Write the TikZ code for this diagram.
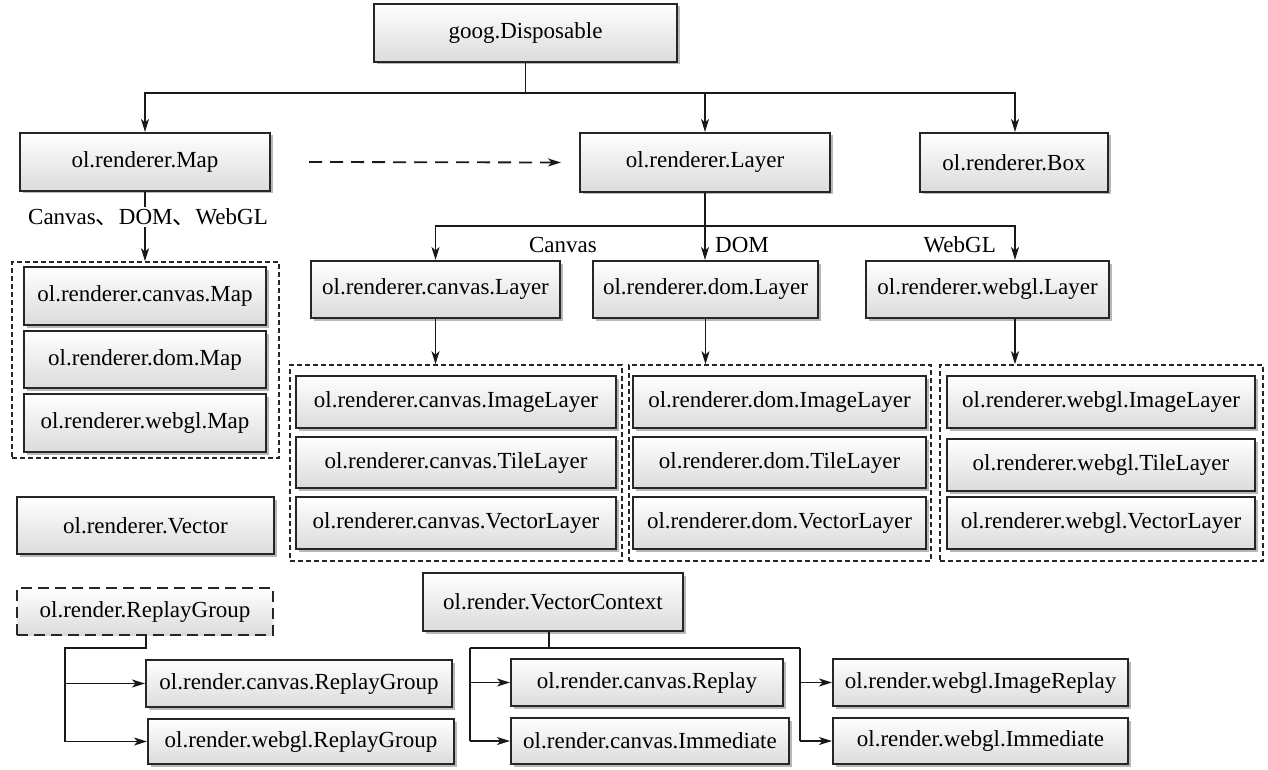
\documentclass[tikz,border=0pt]{standalone}
\usepackage{fontspec}
\setmainfont{Liberation Serif}
\newfontfamily\cjk{Noto Sans CJK SC}
\usetikzlibrary{arrows.meta,shadows,calc}
\begin{document}
\begin{tikzpicture}[x=1pt,y=-1pt,
  cls/.style={draw=black!85, line width=2pt, top color=white, bottom color=black!14,
    drop shadow={shadow xshift=2.5pt, shadow yshift=-2.5pt, fill=black!28, opacity=1},
    inner sep=0pt, font=\fontsize{23}{27}\selectfont},
  dcls/.style={draw=black!85, line width=2pt, top color=white, bottom color=black!14,
    dash pattern=on 11pt off 6pt, inner sep=0pt, font=\fontsize{23}{27}\selectfont},
  grp/.style={draw=black!85, line width=1.6pt, dash pattern=on 5pt off 3pt, inner sep=0pt},
  conn/.style={line width=1.8pt, draw=black!90},
  arr/.style={conn, -{Stealth[length=13pt,width=8pt,inset=3.5pt]}},
  lbl/.style={font=\fontsize{23}{27}\selectfont, inner sep=1pt}
]
\useasboundingbox (0,0) rectangle (1268,770);

% containers
\node[grp, minimum width=267pt, minimum height=196pt] (lgrp) at (145.5,360) {};
\node[grp, minimum width=332pt, minimum height=196pt] (cgrp) at (456,463) {};
\node[grp, minimum width=302pt, minimum height=196pt] (dgrp) at (780,463) {};
\node[grp, minimum width=323pt, minimum height=196pt] (wgrp) at (1101.5,463) {};

% top
\node[cls, minimum width=303pt, minimum height=58pt] (goog) at (525.5,33) {goog.Disposable};
\node[cls, minimum width=250pt, minimum height=58pt] (map) at (145,162) {ol.renderer.Map};
\node[cls, minimum width=250pt, minimum height=59pt] (layer) at (705,162.5) {ol.renderer.Layer};
\node[cls, minimum width=188pt, minimum height=59pt] (box) at (1014,162.5) {ol.renderer.Box};

% layers
\node[cls, minimum width=249pt, minimum height=57pt] (clayer) at (435.5,289.5) {ol.renderer.canvas.Layer};
\node[cls, minimum width=225pt, minimum height=57pt] (dlayer) at (705.5,289.5) {ol.renderer.dom.Layer};
\node[cls, minimum width=243pt, minimum height=57pt] (wlayer) at (987.5,289.5) {ol.renderer.webgl.Layer};

% maps
\node[cls, minimum width=242pt, minimum height=58pt] (cmap) at (145,296) {ol.renderer.canvas.Map};
\node[cls, minimum width=242pt, minimum height=57pt] (dmap) at (145,359.5) {ol.renderer.dom.Map};
\node[cls, minimum width=242pt, minimum height=58pt] (wmap) at (145,423) {ol.renderer.webgl.Map};
\node[cls, minimum width=257pt, minimum height=57pt] (vec) at (145.5,525.5) {ol.renderer.Vector};

% canvas group
\node[cls, minimum width=320pt, minimum height=52pt] (cimg) at (456,402) {ol.renderer.canvas.ImageLayer};
\node[cls, minimum width=320pt, minimum height=51pt] (ctile) at (456,462.5) {ol.renderer.canvas.TileLayer};
\node[cls, minimum width=320pt, minimum height=52pt] (cvec) at (456,523) {ol.renderer.canvas.VectorLayer};
% dom group
\node[cls, minimum width=293pt, minimum height=52pt] (dimg) at (779.5,402) {ol.renderer.dom.ImageLayer};
\node[cls, minimum width=293pt, minimum height=51pt] (dtile) at (779.5,462.5) {ol.renderer.dom.TileLayer};
\node[cls, minimum width=293pt, minimum height=52pt] (dvec) at (779.5,523) {ol.renderer.dom.VectorLayer};
% webgl group
\node[cls, minimum width=308pt, minimum height=52pt] (wimg) at (1101,402) {ol.renderer.webgl.ImageLayer};
\node[cls, minimum width=308pt, minimum height=52pt] (wtile) at (1101,465) {ol.renderer.webgl.TileLayer};
\node[cls, minimum width=308pt, minimum height=52pt] (wvec) at (1101,523) {ol.renderer.webgl.VectorLayer};

% bottom
\node[dcls, minimum width=256pt, minimum height=47pt] (rg) at (145,611.5) {ol.render.ReplayGroup};
\node[cls, minimum width=306pt, minimum height=47pt] (crg) at (299,683.5) {ol.render.canvas.ReplayGroup};
\node[cls, minimum width=306pt, minimum height=45pt] (wrg) at (301,741.5) {ol.render.webgl.ReplayGroup};
\node[cls, minimum width=260pt, minimum height=58pt] (vc) at (553,602) {ol.render.VectorContext};
\node[cls, minimum width=272pt, minimum height=47pt] (crep) at (647,682.5) {ol.render.canvas.Replay};
\node[cls, minimum width=278pt, minimum height=46pt] (cimm) at (650,741) {ol.render.canvas.Immediate};
\node[cls, minimum width=295pt, minimum height=47pt] (wrep) at (980.5,682.5) {ol.render.webgl.ImageReplay};
\node[cls, minimum width=295pt, minimum height=46pt] (wimm) at (980.5,741) {ol.render.webgl.Immediate};

% connectors: top tree
\coordinate (b1) at (525.5,93);
\draw[conn] (goog.south) -- (b1);
\draw[arr] (b1) -| (map.north);
\draw[arr] (b1) -| (layer.north);
\draw[arr] (b1) -| ([xshift=1pt]box.north);
\draw[arr, dash pattern=on 13pt off 8pt] ([xshift=38pt]map.east) -- ([xshift=-18pt]layer.west);

% map to its group
\draw[arr] (map.south) -- (map.south |- lgrp.north);
\node[lbl, fill=white] (mlbl) at (148,217) {Canvas{\cjk 、}DOM{\cjk 、}WebGL};

% layer tree
\coordinate (b2) at (705,226);
\draw[conn] (layer.south) -- (b2);
\draw[arr] (b2) -| (clayer.north);
\draw[arr] (b2) -- (b2 |- dlayer.north);
\draw[arr] (b2) -| ([xshift=27.5pt]wlayer.north);
\node[lbl] (lc) at (563,245) {Canvas};
\node[lbl, anchor=west] (ld) at (714,245) {DOM};
\node[lbl, anchor=east] (lw) at (997,245) {WebGL};

\draw[arr] (clayer.south) -- (clayer.south |- cgrp.north);
\draw[arr] (dlayer.south) -- (dlayer.south |- dgrp.north);
\draw[arr] ([xshift=27.5pt]wlayer.south) -- ([xshift=27.5pt]wlayer.south |- wgrp.north);

% replay group
\coordinate (r1) at (146,648);
\coordinate (r2) at (65,648);
\draw[conn] ([xshift=1pt]rg.south) -- (r1) -- (r2) -- (r2 |- wrg.west);
\draw[arr] (r2 |- crg.west) -- (crg.west);
\draw[arr] (r2 |- wrg.west) -- (wrg.west);

% vector context
\coordinate (v1) at (549,648);
\coordinate (vl) at (470,648);
\coordinate (vr) at (800,648);
\draw[conn] ([xshift=-4pt]vc.south) -- (v1);
\draw[conn] (vl) -- (vr);
\draw[conn] (vl) -- (vl |- cimm.west);
\draw[conn] (vr) -- (vr |- wimm.west);
\draw[arr] (vl |- crep.west) -- (crep.west);
\draw[arr] (vl |- cimm.west) -- (cimm.west);
\draw[arr] (vr |- wrep.west) -- (wrep.west);
\draw[arr] (vr |- wimm.west) -- (wimm.west);
\end{tikzpicture}
\end{document}
